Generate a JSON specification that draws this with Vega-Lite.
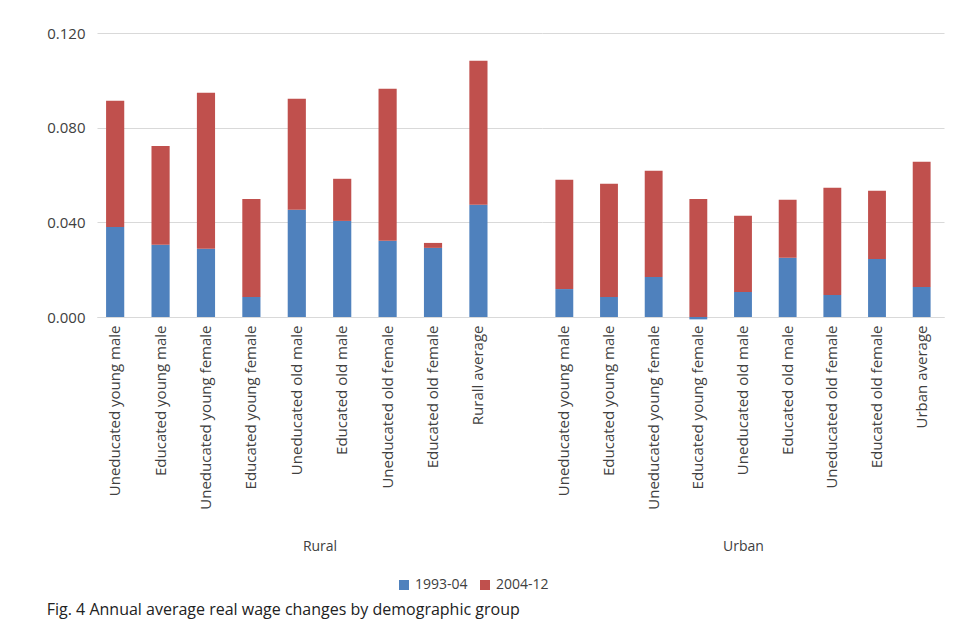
{
  "$schema": "https://vega.github.io/schema/vega-lite/v6.json",
  "padding": {"left": 46, "top": 26, "right": 5, "bottom": 2},
  "datasets": {
    "wages": [
      {"group": "Rural", "k": "r1", "cat": "Uneducated young male", "period": "1993-04", "value": 0.038},
      {"group": "Rural", "k": "r1", "cat": "Uneducated young male", "period": "2004-12", "value": 0.0534},
      {"group": "Rural", "k": "r2", "cat": "Educated  young male", "period": "1993-04", "value": 0.0305},
      {"group": "Rural", "k": "r2", "cat": "Educated  young male", "period": "2004-12", "value": 0.0418},
      {"group": "Rural", "k": "r3", "cat": "Uneducated young female", "period": "1993-04", "value": 0.0288},
      {"group": "Rural", "k": "r3", "cat": "Uneducated young female", "period": "2004-12", "value": 0.066},
      {"group": "Rural", "k": "r4", "cat": "Educated young female", "period": "1993-04", "value": 0.0085},
      {"group": "Rural", "k": "r4", "cat": "Educated young female", "period": "2004-12", "value": 0.0414},
      {"group": "Rural", "k": "r5", "cat": "Uneducated old male", "period": "1993-04", "value": 0.0453},
      {"group": "Rural", "k": "r5", "cat": "Uneducated old male", "period": "2004-12", "value": 0.0469},
      {"group": "Rural", "k": "r6", "cat": "Educated  old male", "period": "1993-04", "value": 0.0406},
      {"group": "Rural", "k": "r6", "cat": "Educated  old male", "period": "2004-12", "value": 0.0178},
      {"group": "Rural", "k": "r7", "cat": "Uneducated old female", "period": "1993-04", "value": 0.0322},
      {"group": "Rural", "k": "r7", "cat": "Uneducated old female", "period": "2004-12", "value": 0.0642},
      {"group": "Rural", "k": "r8", "cat": "Educated old female", "period": "1993-04", "value": 0.0292},
      {"group": "Rural", "k": "r8", "cat": "Educated old female", "period": "2004-12", "value": 0.0021},
      {"group": "Rural", "k": "r9", "cat": "Rurall average", "period": "1993-04", "value": 0.0474},
      {"group": "Rural", "k": "r9", "cat": "Rurall average", "period": "2004-12", "value": 0.0609},
      {"group": "Urban", "k": "u1", "cat": "Uneducated young male", "period": "1993-04", "value": 0.0118},
      {"group": "Urban", "k": "u1", "cat": "Uneducated young male", "period": "2004-12", "value": 0.0462},
      {"group": "Urban", "k": "u2", "cat": "Educated  young male", "period": "1993-04", "value": 0.0085},
      {"group": "Urban", "k": "u2", "cat": "Educated  young male", "period": "2004-12", "value": 0.0478},
      {"group": "Urban", "k": "u3", "cat": "Uneducated young female", "period": "1993-04", "value": 0.0169},
      {"group": "Urban", "k": "u3", "cat": "Uneducated young female", "period": "2004-12", "value": 0.0449},
      {"group": "Urban", "k": "u4", "cat": "Educated young female", "period": "1993-04", "value": -0.001},
      {"group": "Urban", "k": "u4", "cat": "Educated young female", "period": "2004-12", "value": 0.0499},
      {"group": "Urban", "k": "u5", "cat": "Uneducated old male", "period": "1993-04", "value": 0.0106},
      {"group": "Urban", "k": "u5", "cat": "Uneducated old male", "period": "2004-12", "value": 0.0322},
      {"group": "Urban", "k": "u6", "cat": "Educated  old male", "period": "1993-04", "value": 0.025},
      {"group": "Urban", "k": "u6", "cat": "Educated  old male", "period": "2004-12", "value": 0.0245},
      {"group": "Urban", "k": "u7", "cat": "Uneducated old female", "period": "1993-04", "value": 0.0093},
      {"group": "Urban", "k": "u7", "cat": "Uneducated old female", "period": "2004-12", "value": 0.0453},
      {"group": "Urban", "k": "u8", "cat": "Educated old female", "period": "1993-04", "value": 0.0245},
      {"group": "Urban", "k": "u8", "cat": "Educated old female", "period": "2004-12", "value": 0.0288},
      {"group": "Urban", "k": "u9", "cat": "Urban average", "period": "1993-04", "value": 0.0127},
      {"group": "Urban", "k": "u9", "cat": "Urban average", "period": "2004-12", "value": 0.0529}
    ]
  },
  "hconcat": [
    {
      "width": 445,
      "height": 284,
      "data": {"name": "wages"},
      "transform": [{"filter": "datum.group == 'Rural'"}],
      "mark": {"type": "bar"},
      "encoding": {
        "x": {
          "field": "cat", "type": "nominal", "title": "Rural",
          "sort": null,
          "scale": {"domain": ["Uneducated young male", "Educated  young male", "Uneducated young female", "Educated young female", "Uneducated old male", "Educated  old male", "Uneducated old female", "Educated old female", "Rurall average", " "], "paddingInner": 0.6, "paddingOuter": 0.2},
          "axis": {"labelAngle": -90, "ticks": false, "domainColor": "#d9d9d9", "labelPadding": 8, "titlePadding": 30}
        },
        "y": {
          "field": "value", "type": "quantitative", "title": null, "stack": "zero",
          "scale": {"domain": [0, 0.12]},
          "axis": {"values": [0, 0.04, 0.08, 0.12], "format": ".3f", "domain": false, "ticks": false, "labelPadding": 12}
        },
        "color": {"field": "period", "type": "nominal", "title": null, "scale": {"range": ["#4f81bd", "#c0504d"]},
          "legend": {"orient": "none", "legendX": 300, "legendY": 545}},
        "order": {"field": "period"}
      }
    },
    {
      "width": 402,
      "height": 284,
      "data": {"name": "wages"},
      "transform": [{"filter": "datum.group == 'Urban'"}],
      "mark": {"type": "bar"},
      "encoding": {
        "x": {
          "field": "cat", "type": "nominal", "title": "Urban",
          "sort": null,
          "scale": {"paddingInner": 0.6, "paddingOuter": 0.3},
          "axis": {"labelAngle": -90, "ticks": false, "domainColor": "#d9d9d9", "labelPadding": 8, "titlePadding": 30}
        },
        "y": {
          "field": "value", "type": "quantitative", "title": null, "stack": "zero",
          "scale": {"domain": [0, 0.12]},
          "axis": {"values": [0, 0.04, 0.08, 0.12], "labels": false, "domain": false, "ticks": false}
        },
        "color": {"field": "period", "type": "nominal", "title": null},
        "order": {"field": "period"}
      }
    }
  ],
  "spacing": 0,
  "resolve": {"scale": {"x": "independent"}},
  "title": {"text": "Fig. 4 Annual average real wage changes by demographic group", "orient": "bottom", "anchor": "start", "fontSize": 16, "fontWeight": "normal", "color": "#222", "offset": 10},
  "config": {
    "font": "Open Sans",
    "view": {"stroke": null},
    "axis": {"labelFontSize": 15, "labelColor": "#404040", "titleFontSize": 14, "titleFontWeight": "normal", "titleColor": "#404040", "gridColor": "#d9d9d9"},
    "axisX": {"labelLimit": 300},
    "legend": {"direction": "horizontal", "labelFontSize": 14, "symbolType": "square", "labelColor": "#404040"}
  }
}
